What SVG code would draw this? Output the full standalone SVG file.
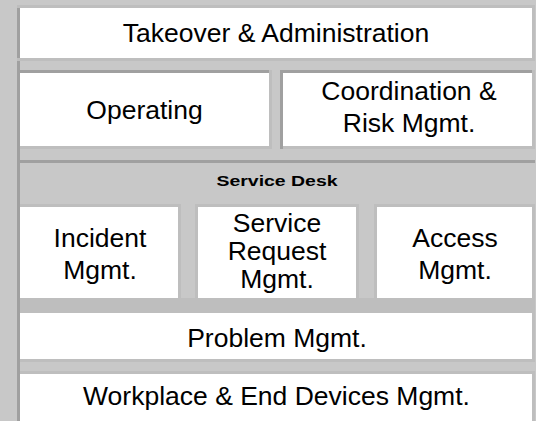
<svg xmlns="http://www.w3.org/2000/svg" width="536" height="421" viewBox="0 0 536 421">
<style>
.t{font-family:"Liberation Sans",Arial,sans-serif;font-size:26.5px;fill:#000;text-anchor:middle}
.s{font-family:"Liberation Sans",Arial,sans-serif;font-size:15px;font-weight:bold;fill:#000;text-anchor:middle}
.lt{fill:#bebebe}
.dk{fill:#a0a0a0}
.wh{fill:#ffffff}
</style>
<rect x="0" y="0" width="536" height="421" fill="#c8c8c8"/>
<rect class="dk" x="17" y="5" width="3" height="416"/>

<g id="takeover">
<rect class="lt" x="17" y="5" width="518" height="56"/>
<rect class="dk" x="17" y="8" width="3" height="50"/>
<rect class="wh" x="20" y="8" width="512" height="50"/>
<text class="t" x="276" y="42">Takeover &amp; Administration</text>
</g>

<g id="operating">
<rect class="lt" x="17" y="70" width="255" height="79"/>
<rect class="dk" x="17" y="70" width="252" height="3"/>
<rect class="dk" x="17" y="70" width="3" height="79"/>
<rect class="wh" x="20" y="73" width="249" height="73"/>
<text class="t" x="144.5" y="119">Operating</text>
</g>

<g id="coordination">
<rect class="lt" x="280" y="70" width="255" height="79"/>
<rect class="dk" x="280" y="70" width="252" height="3"/>
<rect class="dk" x="280" y="70" width="3" height="79"/>
<rect class="wh" x="283" y="73" width="249" height="73"/>
<text class="t" x="409" y="100">Coordination &amp;</text>
<text class="t" x="409" y="132">Risk Mgmt.</text>
</g>

<g id="service-desk">
<rect class="dk" x="17" y="160" width="518" height="3"/>
<text class="s" x="277" y="186" textLength="121" lengthAdjust="spacingAndGlyphs">Service Desk</text>
</g>

<g id="incident">
<rect class="lt" x="17" y="204" width="164" height="97"/>
<rect class="dk" x="17" y="204" width="3" height="97"/>
<rect class="wh" x="20" y="207" width="158" height="91"/>
<text class="t" x="100" y="247">Incident</text>
<text class="t" x="100" y="279">Mgmt.</text>
</g>

<g id="service-request">
<rect class="lt" x="195" y="204" width="164" height="97"/>
<rect class="wh" x="198" y="207" width="158" height="91"/>
<text class="t" x="277" y="232">Service</text>
<text class="t" x="277" y="260">Request</text>
<text class="t" x="277" y="288">Mgmt.</text>
</g>

<g id="access">
<rect class="lt" x="374" y="204" width="161" height="97"/>
<rect class="wh" x="377" y="207" width="155" height="91"/>
<text class="t" x="455" y="247">Access</text>
<text class="t" x="455" y="279">Mgmt.</text>
</g>

<g id="problem">
<rect class="lt" x="20" y="298" width="515" height="64"/>
<rect class="wh" x="20" y="313" width="512" height="46"/>
<text class="t" x="277" y="347">Problem Mgmt.</text>
</g>

<g id="workplace">
<rect fill="#c8c8c8" x="20" y="362" width="515" height="9"/>
<rect class="lt" x="20" y="371" width="515" height="50"/>
<rect class="wh" x="20" y="374" width="512" height="47"/>
<text class="t" x="276.5" y="405">Workplace &amp; End Devices Mgmt.</text>
</g>

<g id="connectors"></g>
</svg>
